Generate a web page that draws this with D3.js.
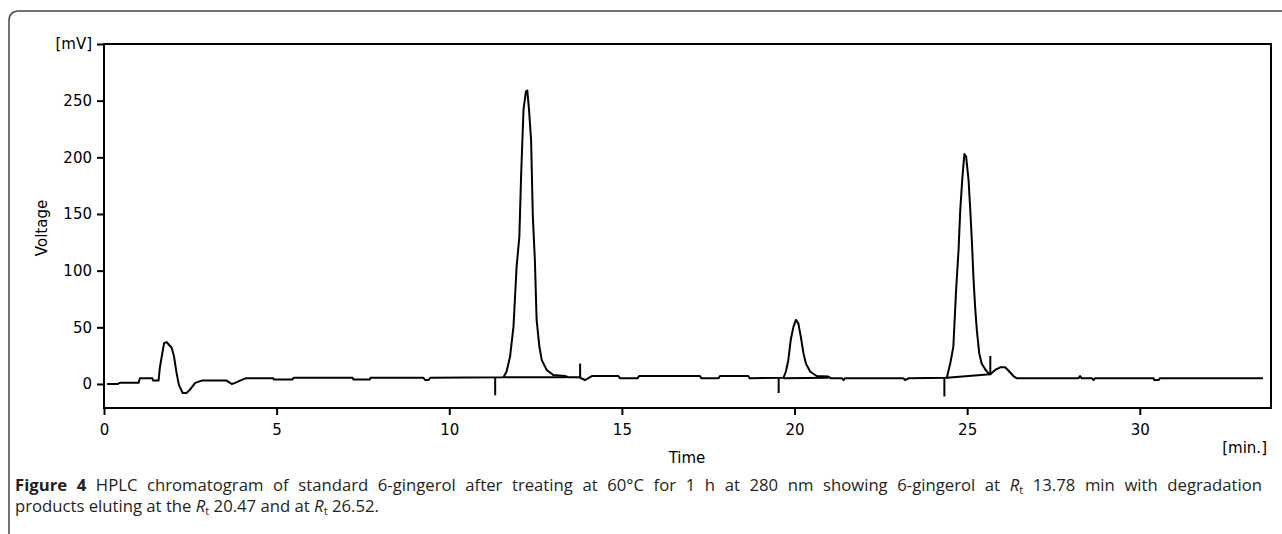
<!DOCTYPE html>
<html>
<head>
<meta charset="utf-8">
<script src="https://cdn.jsdelivr.net/npm/d3@7"></script>
<style>
  html, body { margin: 0; padding: 0; background: #fff; }
  svg { display: block; }
</style>
</head>
<body>
<div id="chart"></div>
<script>
// chromatogram trace: retention time (min) and detector voltage (mV)
const times = [
  0.09, 0.40, 0.46, 1.00, 1.04, 1.40, 1.42, 1.58, 1.62, 1.74, 1.81, 1.96, 2.03, 2.10, 2.17, 2.28,
  2.39, 2.49, 2.64, 2.83, 3.55, 3.70, 3.80, 3.94, 4.10, 4.90, 4.92, 5.45, 5.50, 7.20, 7.22, 7.70,
  7.72, 9.25, 9.30, 9.40, 9.45, 11.57,
  11.66, 11.76, 11.86, 11.95, 12.03, 12.08, 12.15, 12.22, 12.26, 12.31, 12.37, 12.42, 12.48, 12.53,
  12.61, 12.68, 12.82, 13.01, 13.35, 13.45, 13.75, 13.93, 14.13, 14.90, 14.95, 15.45, 15.50, 17.26,
  17.30, 17.80, 17.84, 18.66, 18.70, 19.68,
  19.75, 19.82, 19.89, 19.97, 20.04, 20.11, 20.18, 20.26, 20.33, 20.45, 20.64, 20.98, 21.05, 21.38,
  21.42, 21.46, 23.15, 23.20, 23.30, 24.41,
  24.51, 24.60, 24.68, 24.75, 24.80, 24.86, 24.92, 24.97, 25.04, 25.09, 25.14, 25.18, 25.23, 25.28,
  25.35, 25.42, 25.52, 25.62, 25.67, 25.81, 25.96, 26.10, 26.20, 26.34, 26.44, 28.22, 28.27, 28.32,
  28.62, 28.66, 28.70, 30.40, 30.42, 30.55, 30.58, 33.57
];
const volts = [
  0, 0, 1, 1, 5, 5, 3, 3, 15, 36, 37, 32, 24, 10, -1, -8,
  -8, -5, 1, 3, 3, 0, 1, 3, 5, 5, 4, 4, 5.5, 5.5, 4, 4,
  5.5, 5.5, 3.5, 3.5, 5.5, 6,
  11, 24, 50.6, 103.5, 130, 183, 242, 258, 259, 242, 215, 148, 109, 56.5,
  33, 21, 12.4, 8, 7, 6, 6, 3.5, 7, 7, 5, 5, 7, 7,
  5, 5, 7, 7, 5, 5.5,
  11, 21, 39, 50.6, 56.5, 53.5, 42, 27, 18, 11, 7, 6.5, 5, 5,
  3.5, 5, 5, 3.5, 5, 5.5,
  18, 33, 83, 118, 153.5, 181.5, 203, 200.6, 180, 153.5, 124, 95, 68, 47.6,
  27, 18, 13, 9.4, 8.5, 12.4, 14.7, 14.7, 11.7, 7, 5, 5, 7, 5,
  5, 3.5, 5, 5, 3.5, 3.5, 5, 5
];

// integration baselines under the peaks: start/end time and voltage
const baseStartT = [11.57, 19.68, 24.41];
const baseStartV = [6, 5, 5.5];
const baseEndT = [13.40, 20.98, 25.67];
const baseEndV = [6, 5.5, 8.5];

// peak start/stop markers
const markerT = [11.33, 13.79, 19.54, 24.34, 25.67];
const markerFrom = [5.5, 6, 5, 5, 8];
const markerTo = [-10, 18, -8, -11, 24.7];

const xTicks = [0, 5, 10, 15, 20, 25, 30];
const yTicks = [0, 50, 100, 150, 200, 250, 300];
const yTickLabels = ["0", "50", "100", "150", "200", "250", "[mV]"];

const W = 1282, H = 534;
const plot = { left: 104, top: 44, right: 1271, bottom: 408 };

const svg = d3.select("#chart").append("svg")
  .attr("width", W)
  .attr("height", H);

// outer caption frame (rounded top-left corner)
svg.append("path")
  .attr("d", `M9,${H} L9,21 Q9,11 19,11 L${W},11`)
  .attr("fill", "none")
  .attr("stroke", "#444")
  .attr("stroke-width", 1.5);

const x = d3.scaleLinear().domain([0, 33.8]).range([plot.left, plot.right]);
const y = d3.scaleLinear().domain([-21.2, 300]).range([plot.bottom, plot.top]);

const tickFont = "DejaVu Sans, Tahoma, sans-serif";

// axes
const xAxis = d3.axisBottom(x).tickValues(xTicks).tickSize(7).tickPadding(9);
const yAxis = d3.axisLeft(y).tickValues(yTicks).tickSize(7).tickPadding(5)
  .tickFormat((d, i) => yTickLabels[i]);

const gx = svg.append("g")
  .attr("transform", `translate(0,${plot.bottom})`)
  .call(xAxis);
const gy = svg.append("g")
  .attr("transform", `translate(${plot.left},0)`)
  .call(yAxis);

[gx, gy].forEach(g => {
  g.select(".domain").remove();
  g.selectAll(".tick line").attr("stroke", "#000").attr("stroke-width", 2);
  g.selectAll(".tick text")
    .attr("fill", "#000")
    .style("font-family", tickFont)
    .style("font-size", "15px");
});

// plot frame
svg.append("rect")
  .attr("x", plot.left)
  .attr("y", plot.top)
  .attr("width", plot.right - plot.left)
  .attr("height", plot.bottom - plot.top)
  .attr("fill", "none")
  .attr("stroke", "#000")
  .attr("stroke-width", 2);

// axis titles
svg.append("text")
  .attr("transform", `translate(47,228) rotate(-90)`)
  .attr("text-anchor", "middle")
  .style("font-family", tickFont)
  .style("font-size", "15px")
  .text("Voltage");

svg.append("text")
  .attr("x", 687)
  .attr("y", 463)
  .attr("text-anchor", "middle")
  .style("font-family", tickFont)
  .style("font-size", "15px")
  .text("Time");

svg.append("text")
  .attr("x", 1267)
  .attr("y", 453)
  .attr("text-anchor", "end")
  .style("font-family", tickFont)
  .style("font-size", "15px")
  .text("[min.]");

// trace
const data = times.map((t, i) => ({ t: t, v: volts[i] }));
const line = d3.line()
  .x(d => x(d.t))
  .y(d => y(d.v));

svg.append("path")
  .datum(data)
  .attr("fill", "none")
  .attr("stroke", "#000")
  .attr("stroke-width", 2)
  .attr("stroke-linejoin", "round")
  .attr("d", line);

// integration baselines
svg.selectAll(".base")
  .data(baseStartT)
  .enter().append("line")
  .attr("class", "base")
  .attr("x1", (d, i) => x(d))
  .attr("y1", (d, i) => y(baseStartV[i]))
  .attr("x2", (d, i) => x(baseEndT[i]))
  .attr("y2", (d, i) => y(baseEndV[i]))
  .attr("stroke", "#000")
  .attr("stroke-width", 2);

// markers
svg.selectAll(".marker")
  .data(markerT)
  .enter().append("line")
  .attr("class", "marker")
  .attr("x1", d => x(d))
  .attr("x2", d => x(d))
  .attr("y1", (d, i) => y(markerFrom[i]))
  .attr("y2", (d, i) => y(markerTo[i]))
  .attr("stroke", "#000")
  .attr("stroke-width", 2);

// caption
const capFont = "'Open Sans', 'Noto Sans', sans-serif";
const capSize = 16.7;

// R with subscript t, written as tspans so it stays real text
function addRt(text) {
  text.append("tspan").style("font-style", "italic").text("R");
  text.append("tspan").attr("dy", 3).style("font-size", "11px").text("t");
  text.append("tspan").attr("dy", -3).text(" ");
}

const cap1 = svg.append("text")
  .attr("x", 15)
  .attr("y", 491)
  .style("font-family", capFont)
  .style("font-size", capSize + "px")
  .attr("fill", "#231f20");
cap1.append("tspan").style("font-weight", "bold").text("Figure 4");
cap1.append("tspan").text(" HPLC chromatogram of standard 6-gingerol after treating at 60°C for 1 h at 280 nm showing 6-gingerol at ");
addRt(cap1);
cap1.append("tspan").text("13.78 min with degradation");

const cap2 = svg.append("text")
  .attr("x", 15)
  .attr("y", 512)
  .style("font-family", capFont)
  .style("font-size", capSize + "px")
  .attr("fill", "#231f20");
cap2.append("tspan").text("products eluting at the ");
addRt(cap2);
cap2.append("tspan").text("20.47 and at ");
addRt(cap2);
cap2.append("tspan").text("26.52.");

// first caption line is justified to the full width in the figure
const len = cap1.node().getComputedTextLength();
const spaces = (cap1.text().match(/ /g) || []).length;
const gap = (1247 - len) / spaces;
if (gap > 0) {
  cap1.style("word-spacing", gap + "px");
} else {
  cap1.style("font-size", (capSize * 1247 / len) + "px");
}
</script>
</body>
</html>
